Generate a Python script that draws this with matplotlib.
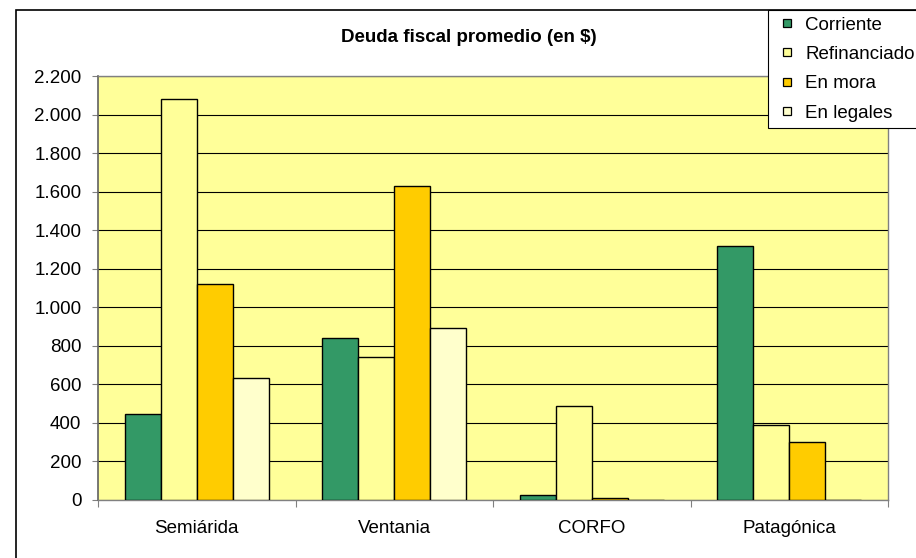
import matplotlib
matplotlib.use("Agg")
import matplotlib.pyplot as plt
from matplotlib.patches import Rectangle
from matplotlib.lines import Line2D
from matplotlib.ticker import FuncFormatter, FixedLocator
import numpy as np

plt.rcParams['font.family'] = ['Liberation Sans', 'DejaVu Sans']

categories = ['Semiárida', 'Ventania', 'CORFO', 'Patagónica']
series_names = ['Corriente', 'Refinanciado', 'En mora', 'En legales']
corriente = [445, 840, 27, 1320]
refinanciado = [2080, 742, 489, 389]
en_mora = [1122, 1628, 10, 299]
en_legales = [633, 894, 0, 0]
colors = ['#339966', '#FFFF99', '#FFCC00', '#FFFFCC']

W, H = 916, 558
fig = plt.figure(figsize=(W / 100, H / 100), dpi=100)
fig.patch.set_facecolor('white')

# outer chart border (runs off the right / bottom edge like the original)
fig.add_artist(Rectangle((16 / W, -0.1), 1.2, 1 - 10 / H + 0.1, transform=fig.transFigure,
                         fill=False, edgecolor='black', lw=1.2))

ax = fig.add_axes([98 / W, 1 - 500 / H, 790 / W, 424 / H])
ax.set_facecolor('#FFFF99')

x = np.arange(len(categories))
w = 1 / 5.5
all_series = [corriente, refinanciado, en_mora, en_legales]
for j, vals in enumerate(all_series):
    ax.bar(x + (j - 1.5) * w, vals, width=w, color=colors[j], edgecolor='black',
           lw=1.0, zorder=3)

ax.set_xlim(-0.5, 3.5)
ax.set_ylim(0, 2200)
ax.set_yticks(np.arange(0, 2201, 200))
ax.yaxis.set_major_formatter(FuncFormatter(lambda v, p: f"{int(v):,}".replace(',', '.')))
ax.yaxis.grid(True, color='black', lw=0.8, zorder=1)
ax.tick_params(axis='y', length=4, width=0.8, color='#808080', pad=8, labelsize=13.5)

ax.set_xticks(x)
ax.set_xticklabels(categories)
ax.xaxis.set_minor_locator(FixedLocator(np.arange(-0.5, 3.6, 1)))
ax.tick_params(axis='x', which='major', length=0, pad=14.5, labelsize=13.5)
ax.tick_params(axis='x', which='minor', length=5, width=0.8, color='#808080')

for s in ['top', 'right', 'bottom']:
    ax.spines[s].set_color('#808080')
    ax.spines[s].set_linewidth(1.0)
ax.spines['left'].set_color('#606060')
ax.spines['left'].set_linewidth(1.2)

fig.text(469 / W, 1 - 38 / H, 'Deuda fiscal promedio (en $)', ha='center', va='center',
         fontsize=13.5, fontweight='bold')

handles = [Line2D([], [], marker='s', linestyle='none', markersize=6,
                  markerfacecolor=c, markeredgecolor='black', markeredgewidth=0.9)
           for c in colors]
leg = fig.legend(handles, series_names, loc='upper left',
                 bbox_to_anchor=(768 / W, 1 - 10 / H), fontsize=13.5,
                 handlelength=1.3, handletextpad=0.33,
                 labelspacing=0.65, borderpad=0.35, borderaxespad=0,
                 fancybox=False, framealpha=1, edgecolor='black')
leg.get_frame().set_linewidth(0.8)

fig.savefig('out.png', dpi=100)
